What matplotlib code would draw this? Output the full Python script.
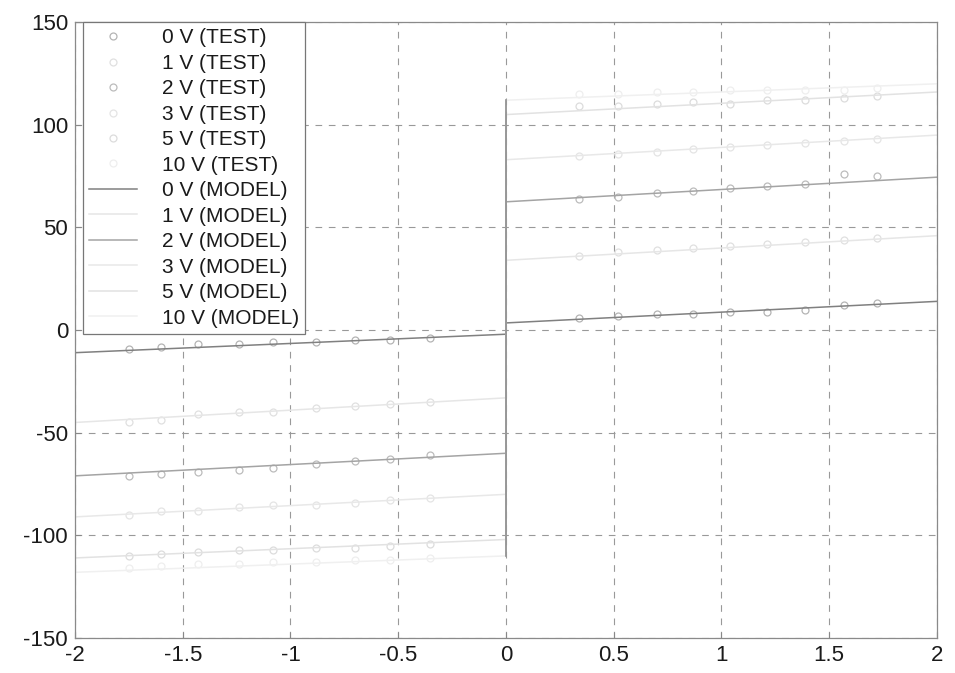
import numpy as np
import matplotlib
matplotlib.use("Agg")
import matplotlib.pyplot as plt

plt.rcParams['font.family'] = ['Liberation Sans', 'DejaVu Sans']
plt.rcParams['axes.unicode_minus'] = False

# ---- data ----
volts = ["0 V", "1 V", "2 V", "3 V", "5 V", "10 V"]

x_test_neg = [-1.75, -1.6, -1.43, -1.24, -1.08, -0.88, -0.7, -0.54, -0.35]
x_test_pos = [0.34, 0.52, 0.7, 0.87, 1.04, 1.21, 1.39, 1.57, 1.72]

test_neg = {
    "0 V": [-9, -8, -7, -7, -6, -6, -5, -5, -4],
    "1 V": [-45, -44, -41, -40, -40, -38, -37, -36, -35],
    "2 V": [-71, -70, -69, -68, -67, -65, -64, -63, -61],
    "3 V": [-90, -88, -88, -86, -85, -85, -84, -83, -82],
    "5 V": [-110, -109, -108, -107, -107, -106, -106, -105, -104],
    "10 V": [-116, -115, -114, -114, -113, -113, -112, -112, -111],
}
test_pos = {
    "0 V": [6, 7, 8, 8, 9, 9, 10, 12, 13],
    "1 V": [36, 38, 39, 40, 41, 42, 43, 44, 45],
    "2 V": [64, 65, 67, 68, 69, 70, 71, 76, 75],
    "3 V": [85, 86, 87, 88, 89, 90, 91, 92, 93],
    "5 V": [109, 109, 110, 111, 110, 112, 112, 113, 114],
    "10 V": [115, 115, 116, 116, 117, 117, 117, 117, 118],
}

x_model = [-2, 0, 0, 2]
model = {
    "0 V": [-11, -2, 3.5, 14],
    "1 V": [-45, -33, 34, 46],
    "2 V": [-71, -60, 62.5, 74.5],
    "3 V": [-91, -80, 83, 95],
    "5 V": [-111, -102, 105, 116],
    "10 V": [-118, -110, 112, 120],
}

# faded scan look: only 0 V and 2 V survive clearly
marker_col = {"0 V": "#b4b4b4", "1 V": "#e0e0e0", "2 V": "#bcbcbc",
              "3 V": "#e4e4e4", "5 V": "#dcdcdc", "10 V": "#eeeeee"}
line_col = {"0 V": "#808080", "1 V": "#e6e6e6", "2 V": "#a4a4a4",
            "3 V": "#e8e8e8", "5 V": "#e2e2e2", "10 V": "#f0f0f0"}

fig = plt.figure(figsize=(9.55, 6.73), dpi=100)
ax = fig.add_axes([0.0785, 0.052, 0.9025, 0.915])

for v in volts:
    ax.plot(x_test_neg + x_test_pos, test_neg[v] + test_pos[v], "o",
            ms=5, mfc="none", mec=marker_col[v], mew=0.9,
            label=f"{v} (TEST)")
for v in volts:
    ax.plot(x_model, model[v], "-", color=line_col[v], lw=1.1,
            label=f"{v} (MODEL)")
    # the jump at zero prints darker on the scan
    ax.plot(x_model[1:3], model[v][1:3], "-", color="#8c8c8c", lw=1.2)

ax.set_xlim(-2, 2)
ax.set_ylim(-150, 150)
ax.set_xticks([-2, -1.5, -1, -0.5, 0, 0.5, 1, 1.5, 2])
ax.set_xticklabels(["-2", "-1.5", "-1", "-0.5", "0", "0.5", "1", "1.5", "2"])
ax.set_yticks([-150, -100, -50, 0, 50, 100, 150])
ax.tick_params(direction="in", length=4, labelsize=16, color="#888888",
               labelcolor="#1a1a1a")
ax.tick_params(axis="x", pad=5)
ax.tick_params(axis="y", pad=5)
ax.grid(True, ls=(0, (6, 6)), color="#999999", lw=0.8)
for s in ax.spines.values():
    s.set_color("#8a8a8a")
    s.set_linewidth(0.9)

leg = ax.legend(loc="upper left", bbox_to_anchor=(0.009, 1.0), fontsize=15,
                frameon=True, fancybox=False, edgecolor="#777777",
                framealpha=1, labelspacing=0.31, handlelength=2.3,
                handletextpad=1.2, borderpad=0.3, borderaxespad=0)
leg.get_frame().set_linewidth(0.9)
for t in leg.get_texts():
    t.set_color("#1a1a1a")

fig.savefig("out.png", dpi=100)
